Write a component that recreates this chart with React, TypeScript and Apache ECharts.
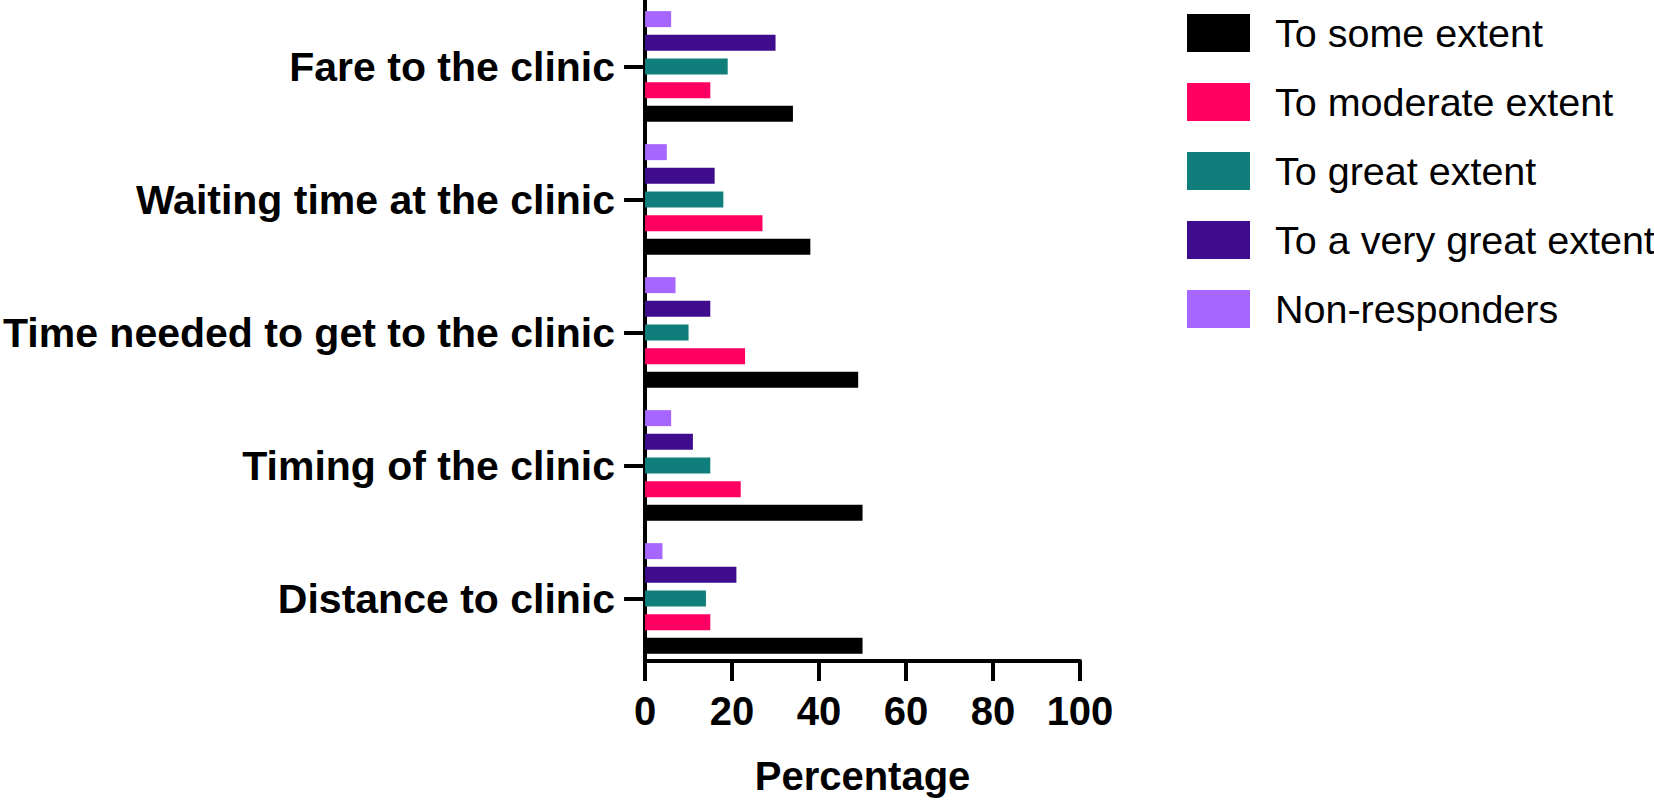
import React, { useEffect, useRef } from "react";
import * as echarts from "echarts";

const categories = [
  "Distance to clinic",
  "Timing of the clinic",
  "Time needed to get to the clinic",
  "Waiting time at the clinic",
  "Fare to the clinic",
];
const seriesNames = [
  "To some extent",
  "To moderate extent",
  "To great extent",
  "To a very great extent",
  "Non-responders",
];
const someExtent = [50, 50, 49, 38, 34];
const moderateExtent = [15, 22, 23, 27, 15];
const greatExtent = [14, 15, 10, 18, 19];
const veryGreatExtent = [21, 11, 15, 16, 30];
const nonResponders = [4, 6, 7, 5, 6];
const xTicks = [0, 20, 40, 60, 80, 100];

const colors = ["#000000", "#FF0062", "#107E7A", "#3E0C8C", "#A766FF"];
const FONT = "'Liberation Sans', Arial, sans-serif";

export default function App() {
  const ref = useRef<HTMLDivElement>(null);
  useEffect(() => {
    if (!ref.current) return;
    const chart = echarts.init(ref.current, undefined, { renderer: "svg" });
    const values = [someExtent, moderateExtent, greatExtent, veryGreatExtent, nonResponders];
    const order = [4, 3, 2, 1, 0];
    chart.setOption({
      animation: false,
      grid: { left: 640, right: 574, top: -4, bottom: 134, containLabel: false },
      legend: {
        orient: "vertical",
        left: 1182,
        top: 8,
        icon: "rect",
        itemWidth: 63,
        itemHeight: 38,
        itemGap: 29,
        selectedMode: false,
        textStyle: { fontSize: 39.5, color: "#000", fontFamily: FONT, padding: [0, 0, 0, 20] },
        data: seriesNames,
      },
      xAxis: {
        type: "value",
        min: xTicks[0],
        max: xTicks[xTicks.length - 1],
        interval: 20,
        offset: -4,
        name: "Percentage",
        nameLocation: "middle",
        nameGap: 95,
        nameTextStyle: { fontSize: 40, fontWeight: "bold", color: "#000", fontFamily: FONT },
        axisLine: { show: true, lineStyle: { color: "#000", width: 4 } },
        axisTick: { show: true, length: 20, lineStyle: { color: "#000", width: 4 } },
        axisLabel: { fontSize: 40, fontWeight: "bold", color: "#000", fontFamily: FONT, margin: 30 },
        splitLine: { show: false },
      },
      yAxis: {
        type: "category",
        data: categories,
        axisLine: { show: true, lineStyle: { color: "#000", width: 4 } },
        axisTick: { show: true, length: 21, alignWithLabel: true, lineStyle: { color: "#000", width: 4 } },
        axisLabel: { fontSize: 41, fontWeight: "bold", color: "#000", fontFamily: FONT, margin: 30 },
      },
      series: order.map((i) => ({
        name: seriesNames[i],
        type: "bar",
        data: values[i],
        barWidth: 16,
        barGap: "48%",
        itemStyle: { color: colors[i] },
      })),
    });
    return () => chart.dispose();
  }, []);
  return (
    <div
      ref={ref}
      style={{ position: "absolute", left: 0, top: 0, width: 1654, height: 801 }}
    />
  );
}
